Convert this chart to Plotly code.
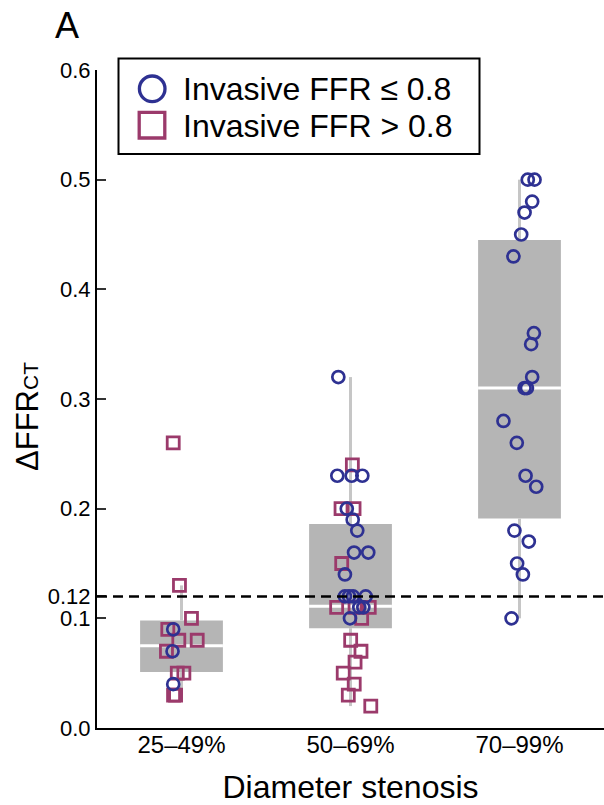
import plotly.graph_objects as go

# ---------------- data ----------------
categories = ["25–49%", "50–69%", "70–99%"]

# Invasive FFR <= 0.8 (circles): values and horizontal jitter per group
g1_circ_y = [0.09, 0.07, 0.04]
g1_circ_dx = [-0.049, -0.053, -0.049]
g2_circ_y = [0.32, 0.23, 0.23, 0.23, 0.20, 0.19, 0.18, 0.16, 0.16, 0.14,
             0.12, 0.12, 0.12, 0.12, 0.11, 0.11, 0.10]
g2_circ_dx = [-0.072, -0.078, 0.007, 0.070, -0.022, 0.013, 0.040, 0.021, 0.105, -0.033,
              -0.033, -0.009, 0.015, 0.090, 0.052, 0.076, -0.003]
g3_circ_y = [0.50, 0.50, 0.48, 0.47, 0.45, 0.43, 0.36, 0.35, 0.32, 0.31,
             0.31, 0.28, 0.26, 0.23, 0.22, 0.18, 0.17, 0.15, 0.14, 0.10]
g3_circ_dx = [0.049, 0.089, 0.075, 0.030, 0.010, -0.036, 0.085, 0.069, 0.075, 0.030,
              0.044, -0.095, -0.016, 0.036, 0.099, -0.030, 0.055, -0.014, 0.020, -0.047]

# Invasive FFR > 0.8 (squares)
g1_sq_y = [0.26, 0.13, 0.10, 0.09, 0.08, 0.08, 0.07, 0.05, 0.05, 0.03, 0.03]
g1_sq_dx = [-0.049, -0.012, 0.059, -0.081, -0.016, 0.093, -0.089, -0.025, 0.014, -0.047, -0.035]
g2_sq_y = [0.24, 0.20, 0.20, 0.15, 0.11, 0.11, 0.11, 0.10, 0.08, 0.07,
           0.06, 0.05, 0.04, 0.03, 0.02]
g2_sq_dx = [0.011, -0.056, 0.021, -0.052, -0.082, 0.027, 0.111, 0.066, 0.001, 0.062,
            0.027, -0.043, 0.022, -0.013, 0.120]
g3_sq_y = []
g3_sq_dx = []

# box statistics per group
box_q1 = [0.051, 0.091, 0.191]
box_median = [0.075, 0.111, 0.310]
box_q3 = [0.098, 0.186, 0.445]
whisker_low = [0.03, 0.02, 0.10]
whisker_high = [0.13, 0.32, 0.50]

threshold = 0.12
y_tick_vals = [0.0, 0.1, 0.12, 0.2, 0.3, 0.4, 0.5, 0.6]
y_tick_text = ["0.0", "0.1", "0.12", "0.2", "0.3", "0.4", "0.5", "0.6"]

legend_labels = ["Invasive FFR ≤ 0.8", "Invasive FFR > 0.8"]

# ---------------- styles ----------------
FONT = "Liberation Sans, Arial, Helvetica, sans-serif"
BLUE = "#2E3192"
MAGENTA = "#9B3A6B"
BOX_FILL = "#b5b5b5"
WHISKER = "#c6c6c6"
BOX_W = 0.49

W, H = 604, 805
ML, MR, MT, MB = 97, 0, 70, 77
PW, PH = W - ML - MR, H - MT - MB


def px_x(p):
    return (p - ML) / PW


def px_y(p):
    return (H - MB - p) / PH


fig = go.Figure()

# boxes
fig.add_trace(go.Bar(
    x=list(range(len(categories))),
    base=box_q1,
    y=[q3 - q1 for q1, q3 in zip(box_q1, box_q3)],
    width=BOX_W,
    marker=dict(color=BOX_FILL, line=dict(width=0)),
    showlegend=False, hoverinfo="skip",
))

# whiskers
wx, wy = [], []
for i in range(len(categories)):
    wx += [i, i, None, i, i, None]
    wy += [whisker_low[i], box_q1[i], None, box_q3[i], whisker_high[i], None]
fig.add_trace(go.Scatter(x=wx, y=wy, mode="lines",
                         line=dict(color=WHISKER, width=3),
                         showlegend=False, hoverinfo="skip"))

# medians
mx, my = [], []
for i in range(len(categories)):
    mx += [i - BOX_W / 2, i + BOX_W / 2, None]
    my += [box_median[i], box_median[i], None]
fig.add_trace(go.Scatter(x=mx, y=my, mode="lines",
                         line=dict(color="white", width=3),
                         showlegend=False, hoverinfo="skip"))

# points
sq_sets = [(g1_sq_y, g1_sq_dx), (g2_sq_y, g2_sq_dx), (g3_sq_y, g3_sq_dx)]
ci_sets = [(g1_circ_y, g1_circ_dx), (g2_circ_y, g2_circ_dx), (g3_circ_y, g3_circ_dx)]

sx, sy = [], []
for i, (ys, dxs) in enumerate(sq_sets):
    sx += [i + d for d in dxs]
    sy += ys
fig.add_trace(go.Scatter(x=sx, y=sy, mode="markers", name=legend_labels[1],
                         marker=dict(symbol="square-open", size=12,
                                     color=MAGENTA, line=dict(width=2.8, color=MAGENTA)),
                         showlegend=False))

cx, cy = [], []
for i, (ys, dxs) in enumerate(ci_sets):
    cx += [i + d for d in dxs]
    cy += ys
fig.add_trace(go.Scatter(x=cx, y=cy, mode="markers", name=legend_labels[0],
                         marker=dict(symbol="circle-open", size=12,
                                     color=BLUE, line=dict(width=2.7, color=BLUE)),
                         showlegend=False))

shapes = [
    # threshold line
    dict(type="line", xref="paper", yref="y", x0=0, x1=1, y0=threshold, y1=threshold,
         line=dict(color="black", width=2.5, dash="10px,6px"), layer="above"),
    # legend frame
    dict(type="rect", xref="paper", yref="paper",
         x0=px_x(118.5), x1=px_x(479.5), y0=px_y(154), y1=px_y(58.5),
         line=dict(color="black", width=2), fillcolor="white", layer="above"),
    # legend symbols
    dict(type="circle", xref="paper", yref="paper",
         x0=px_x(152.2 - 12.8), x1=px_x(152.2 + 12.8),
         y0=px_y(88.8 + 12.8), y1=px_y(88.8 - 12.8),
         line=dict(color=BLUE, width=3.3), layer="above"),
    dict(type="rect", xref="paper", yref="paper",
         x0=px_x(152 - 12.8), x1=px_x(152 + 12.8),
         y0=px_y(125.2 + 12.8), y1=px_y(125.2 - 12.8),
         line=dict(color=MAGENTA, width=3.3), layer="above"),
]

annotations = [
    dict(text=legend_labels[0], xref="paper", yref="paper", x=px_x(181), y=px_y(88.5),
         xanchor="left", yanchor="middle", showarrow=False,
         font=dict(family=FONT, size=32, color="black")),
    dict(text=legend_labels[1], xref="paper", yref="paper", x=px_x(181), y=px_y(126),
         xanchor="left", yanchor="middle", showarrow=False,
         font=dict(family=FONT, size=32, color="black")),
    dict(text="A", xref="paper", yref="paper", x=px_x(53), y=px_y(26),
         xanchor="left", yanchor="middle", showarrow=False,
         font=dict(family=FONT, size=36, color="black")),
    dict(text="ΔFFR<span style='font-size:21px'>CT</span>", xref="paper", yref="paper",
         x=px_x(27), y=px_y(417), xanchor="center", yanchor="middle",
         textangle=-90, showarrow=False,
         font=dict(family=FONT, size=31, color="black")),
]

fig.update_layout(
    width=W, height=H,
    margin=dict(l=ML, r=MR, t=MT, b=MB, pad=0),
    paper_bgcolor="white", plot_bgcolor="white",
    font=dict(family=FONT, color="black"),
    shapes=shapes, annotations=annotations,
    showlegend=False,
    xaxis=dict(
        range=[-0.5, 2.5], tickvals=list(range(len(categories))), ticktext=categories,
        showline=True, linecolor="black", linewidth=2, ticks="",
        showgrid=False, zeroline=False, fixedrange=True,
        ticklabelstandoff=-6,
        tickfont=dict(family=FONT, size=24, color="black"),
        title=dict(text="Diameter stenosis", font=dict(family=FONT, size=32, color="black"),
                   standoff=26),
    ),
    yaxis=dict(
        range=[0, 0.6], tickvals=y_tick_vals, ticktext=y_tick_text,
        showline=True, linecolor="black", linewidth=2,
        ticks="inside", ticklen=9, tickwidth=1.5, tickcolor="#333333",
        showgrid=False, zeroline=False, fixedrange=True,
        tickfont=dict(family=FONT, size=22, color="black"),
    ),
)

fig.write_html("out.html")
